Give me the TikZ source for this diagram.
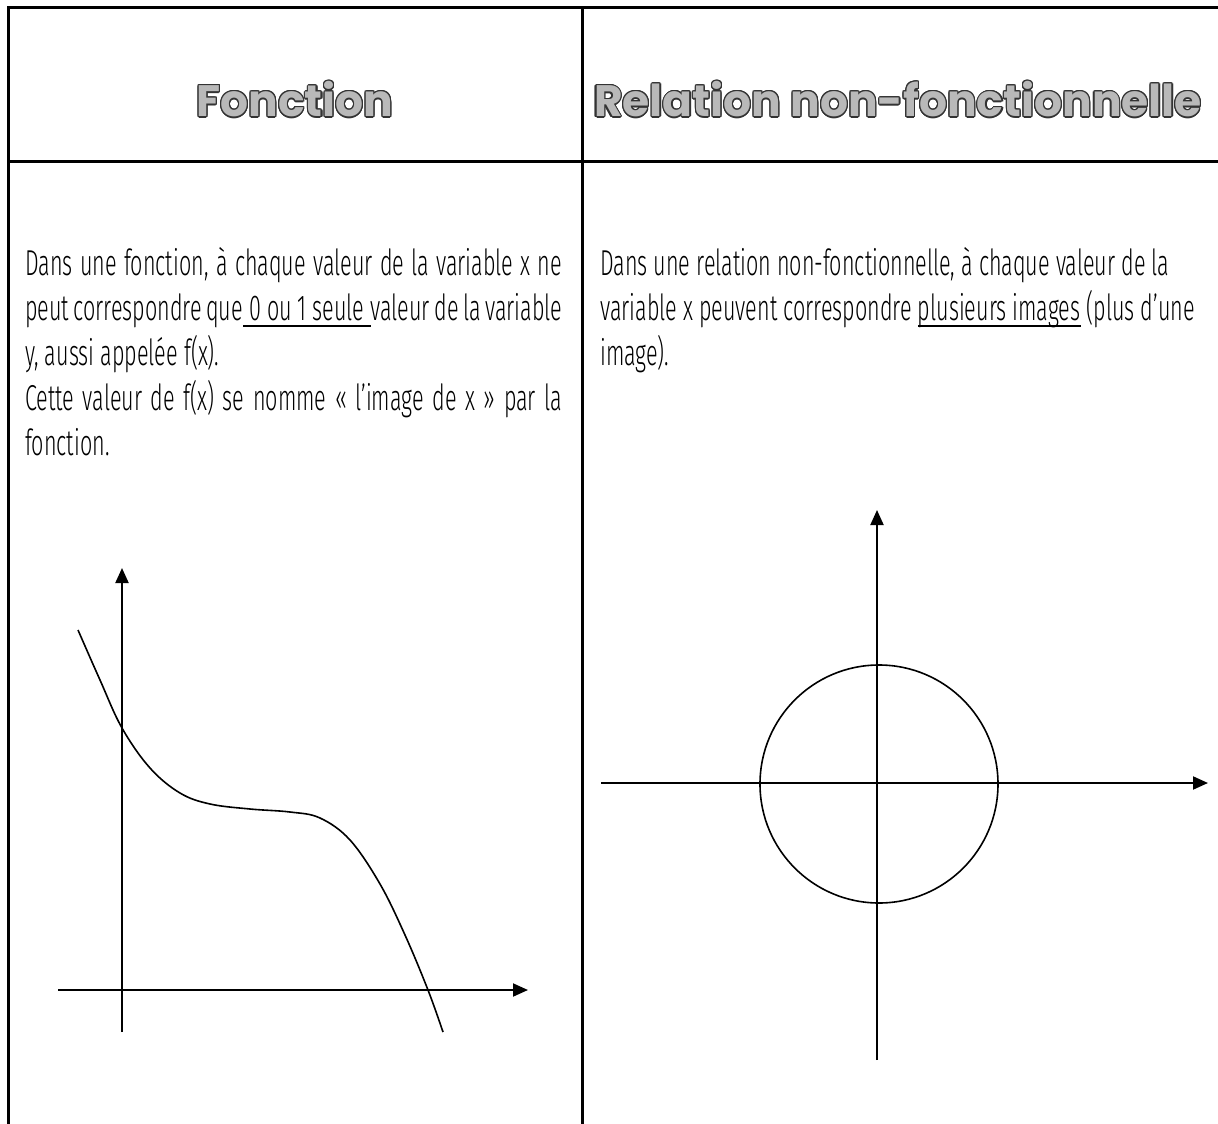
\documentclass[tikz,border=0pt]{standalone}
\usepackage{fontspec}
\setmainfont{Fira Sans Light}[FakeStretch=0.6]
\newfontfamily\headfont{Poppins}
\usepackage{contour}
\contourlength{1.2pt}
\usetikzlibrary{arrows.meta, positioning}

\newcommand{\thickul}[1]{\setbox0\hbox{#1}\rlap{\rule[-7pt]{\wd0}{2.2pt}}\box0\relax}

\begin{document}
\begin{tikzpicture}[
    x=1pt, y=-1pt,
    frame/.style={line width=3pt},
    axis/.style={line width=2pt, -{Triangle[length=15pt, width=13pt]}},
    graph/.style={line width=1.6pt},
    title/.style={inner sep=0pt, text=gray!55,
                  font=\headfont\bfseries\fontsize{44}{48}\selectfont},
    body/.style={anchor=base west, inner sep=0pt,
                 font=\fontsize{36}{45}\selectfont}
]
    \useasboundingbox (0,0) rectangle (1218,1124);

    % table frame
    \coordinate (tl) at (8,8);
    \coordinate (tr) at (1218,8);
    \coordinate (bl) at (8,1124);
    \coordinate (mt) at (582,8);
    \coordinate (mb) at (582,1124);
    \coordinate (hl) at (8,161);
    \coordinate (hr) at (1218,161);
    \draw[frame] (tr) -- (tl) -- (bl);
    \draw[frame] (mt) -- (mb);
    \draw[frame] (hl) -- (hr);

    % headers
    \node[title] (fct) at (295,100) {\contour{black!80}{Fonction}};
    \node[title] (rel) at (898,100) {\contour{black!80}{Relation non-fonctionnelle}};

    % left column text
    \node[body] (fct1) at (25,275) {\makebox[537pt][s]{Dans une fonction, à chaque valeur de la variable x ne}};
    \node[body] (fct2) at (25,320) {\makebox[537pt][s]{peut correspondre que\thickul{ 0 ou 1 seule }valeur de la variable}};
    \node[body] (fct3) at (25,365) {y, aussi appelée f(x).};
    \node[body] (fct4) at (25,410) {\makebox[537pt][s]{Cette valeur de f(x) se nomme « l’image de x » par la}};
    \node[body] (fct5) at (25,455) {fonction.};

    % right column text
    \node[body] (rel1) at (600,275) {Dans une relation non-fonctionnelle, à chaque valeur de la};
    \node[body] (rel2) at (600,320) {variable x peuvent correspondre \thickul{plusieurs images} (plus d’une};
    \node[body] (rel3) at (600,365) {image).};

    % function graph
    \coordinate (fy0) at (122,1032);
    \coordinate (fy1) at (122,568);
    \coordinate (fx0) at (58,990);
    \coordinate (fx1) at (528,990);
    \draw[axis] (fy0) -- (fy1);
    \draw[axis] (fx0) -- (fx1);
    \draw[graph] plot[smooth, tension=0.6] coordinates {
        (78,630) (100,680) (122,728) (150,768) (180,793) (210,804)
        (250,809) (290,812) (320,818) (350,840) (380,884) (405,935)
        (428,990) (443,1032)};

    % relation graph
    \coordinate (ry0) at (877,1060);
    \coordinate (ry1) at (877,510);
    \coordinate (rx0) at (601,783);
    \coordinate (rx1) at (1208,783);
    \draw[axis] (ry0) -- (ry1);
    \draw[axis] (rx0) -- (rx1);
    \draw[graph] (879,784) circle[radius=119];
\end{tikzpicture}
\end{document}
